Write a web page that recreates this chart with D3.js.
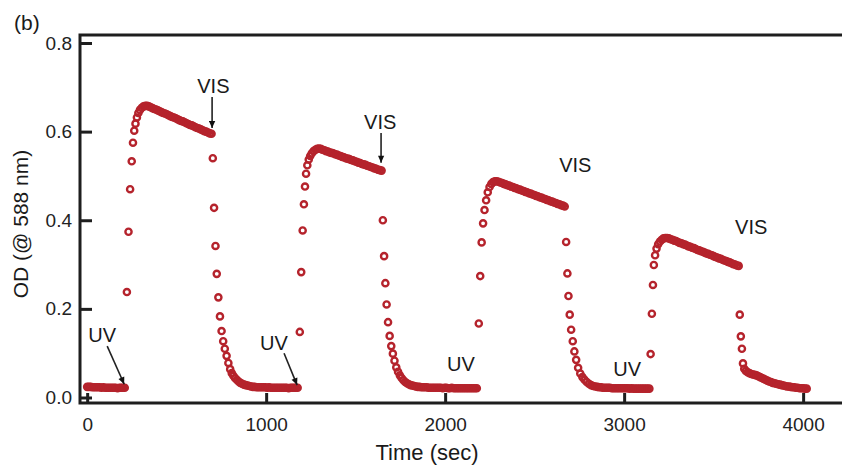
<!DOCTYPE html>
<html>
<head>
<meta charset="utf-8">
<script src="https://cdn.jsdelivr.net/npm/d3@7"></script>
<style>
  body { margin: 0; background: #fff; }
  svg { display: block; font-family: "Liberation Sans", Arial, Helvetica, sans-serif; }
</style>
</head>
<body>
<svg id="chart" width="842" height="466"></svg>
<script>
// Optical density at 588 nm over four UV / VIS switching cycles: [time (s), OD]
const uvDark1 = [[0,0.024],[10,0.024],[20,0.024],[30,0.023],[40,0.023],[50,0.023],[60,0.023],[70,0.023],[80,0.022],[90,0.023],[100,0.022],[110,0.022],[120,0.022],[130,0.022],[140,0.022],[150,0.022],[160,0.022],[170,0.021],[180,0.022],[190,0.022],[200,0.022],[210,0.022]];
const rise1 = [[222,0.238],[231,0.374],[240,0.470],[249,0.533],[256,0.575],[263,0.602],[270,0.618],[278,0.632],[286,0.642],[295,0.649],[305,0.654],[315,0.657],[325,0.658],[335,0.658]];
const plateau1 = [[345,0.657],[355,0.655],[365,0.653],[375,0.651],[385,0.650],[395,0.648],[405,0.646],[415,0.644],[425,0.642],[435,0.641],[445,0.639],[455,0.637],[465,0.635],[475,0.633],[485,0.632],[495,0.630],[505,0.628],[515,0.626],[525,0.624],[535,0.623],[545,0.621],[555,0.619],[565,0.617],[575,0.615],[585,0.614],[595,0.612],[605,0.610],[615,0.608],[625,0.607],[635,0.605],[645,0.603],[655,0.601],[665,0.600],[675,0.598],[685,0.596],[695,0.595]];
const fall1 = [[702,0.540],[709,0.428],[717,0.342],[724,0.279],[733,0.226],[742,0.183],[751,0.150],[760,0.127],[769,0.110],[779,0.094],[789,0.078],[799,0.064],[808,0.055],[817,0.049],[826,0.044],[836,0.040],[846,0.036],[856,0.033],[866,0.031],[876,0.029],[886,0.028],[896,0.027],[906,0.026],[916,0.025],[926,0.024]];
const dark2 = [[936,0.024],[946,0.023],[956,0.023],[966,0.023],[976,0.023],[986,0.023],[996,0.023],[1006,0.022],[1016,0.023],[1026,0.022],[1036,0.022],[1046,0.022],[1056,0.022],[1066,0.022],[1076,0.022],[1086,0.022],[1096,0.022],[1106,0.022],[1116,0.022],[1126,0.021],[1136,0.022],[1146,0.022],[1156,0.022],[1166,0.022],[1176,0.022]];
const rise2 = [[1188,0.148],[1196,0.283],[1204,0.377],[1211,0.436],[1217,0.476],[1223,0.505],[1230,0.524],[1238,0.537],[1246,0.545],[1255,0.551],[1265,0.556],[1275,0.559],[1285,0.561],[1295,0.562]];
const plateau2 = [[1305,0.561],[1315,0.559],[1325,0.558],[1335,0.556],[1345,0.555],[1355,0.553],[1365,0.552],[1375,0.551],[1385,0.549],[1395,0.548],[1405,0.546],[1415,0.545],[1425,0.543],[1435,0.542],[1445,0.540],[1455,0.539],[1465,0.538],[1475,0.536],[1485,0.535],[1495,0.533],[1505,0.532],[1515,0.530],[1525,0.529],[1535,0.527],[1545,0.526],[1555,0.525],[1565,0.523],[1575,0.522],[1585,0.520],[1595,0.519],[1605,0.517],[1615,0.516],[1625,0.514],[1635,0.513],[1645,0.512]];
const fall2 = [[1652,0.400],[1659,0.319],[1666,0.258],[1673,0.210],[1681,0.170],[1690,0.139],[1699,0.116],[1708,0.099],[1717,0.083],[1727,0.068],[1737,0.058],[1747,0.050],[1757,0.044],[1767,0.039],[1777,0.035],[1787,0.032],[1797,0.030],[1807,0.028],[1817,0.027],[1827,0.026],[1837,0.025],[1847,0.024]];
const dark3 = [[1857,0.024],[1867,0.023],[1877,0.023],[1887,0.023],[1897,0.023],[1907,0.022],[1917,0.022],[1927,0.022],[1937,0.022],[1947,0.022],[1957,0.022],[1967,0.022],[1977,0.022],[1987,0.021],[1997,0.022],[2007,0.022],[2017,0.021],[2027,0.021],[2037,0.022],[2047,0.021],[2057,0.021],[2067,0.021],[2077,0.021],[2087,0.021],[2097,0.021],[2107,0.021],[2117,0.021],[2127,0.021],[2137,0.021],[2147,0.021],[2157,0.021],[2167,0.021],[2177,0.021]];
const rise3 = [[2188,0.167],[2196,0.274],[2204,0.350],[2212,0.393],[2220,0.423],[2229,0.445],[2238,0.463],[2248,0.475],[2258,0.482],[2268,0.486],[2278,0.488],[2288,0.488]];
const plateau3 = [[2298,0.487],[2308,0.485],[2318,0.484],[2328,0.482],[2338,0.481],[2348,0.479],[2358,0.478],[2368,0.476],[2378,0.475],[2388,0.473],[2398,0.472],[2408,0.470],[2418,0.469],[2428,0.467],[2438,0.466],[2448,0.464],[2458,0.463],[2468,0.461],[2478,0.460],[2488,0.458],[2498,0.457],[2508,0.455],[2518,0.454],[2528,0.452],[2538,0.451],[2548,0.449],[2558,0.448],[2568,0.446],[2578,0.445],[2588,0.443],[2598,0.442],[2608,0.440],[2618,0.439],[2628,0.437],[2638,0.436],[2648,0.434],[2658,0.433],[2668,0.431]];
const fall3 = [[2676,0.351],[2683,0.280],[2689,0.229],[2696,0.187],[2704,0.153],[2713,0.127],[2722,0.104],[2732,0.085],[2743,0.067],[2755,0.054],[2767,0.046],[2779,0.040],[2791,0.035],[2803,0.031],[2815,0.028],[2827,0.026],[2839,0.025],[2851,0.024]];
const dark4 = [[2861,0.023],[2871,0.023],[2881,0.022],[2891,0.022],[2901,0.022],[2911,0.022],[2921,0.022],[2931,0.021],[2941,0.021],[2951,0.021],[2961,0.021],[2971,0.021],[2981,0.021],[2991,0.021],[3001,0.021],[3011,0.021],[3021,0.021],[3031,0.020],[3041,0.021],[3051,0.020],[3061,0.020],[3071,0.020],[3081,0.020],[3091,0.020],[3101,0.020],[3111,0.020],[3121,0.020],[3131,0.020],[3141,0.020]];
const rise4 = [[3148,0.098],[3155,0.189],[3161,0.254],[3166,0.299],[3173,0.321],[3181,0.336],[3190,0.346],[3200,0.352],[3210,0.356],[3220,0.359],[3230,0.360],[3240,0.360]];
const plateau4 = [[3250,0.359],[3260,0.357],[3270,0.356],[3280,0.354],[3290,0.353],[3300,0.351],[3310,0.349],[3320,0.348],[3330,0.346],[3340,0.345],[3350,0.343],[3360,0.341],[3370,0.340],[3380,0.338],[3390,0.337],[3400,0.335],[3410,0.333],[3420,0.332],[3430,0.330],[3440,0.329],[3450,0.327],[3460,0.325],[3470,0.324],[3480,0.322],[3490,0.321],[3500,0.319],[3510,0.317],[3520,0.316],[3530,0.314],[3540,0.313],[3550,0.311],[3560,0.309],[3570,0.308],[3580,0.306],[3590,0.305],[3600,0.303],[3610,0.301],[3620,0.300],[3630,0.298],[3640,0.297]];
const fall4 = [[3646,0.187],[3652,0.138],[3658,0.110],[3664,0.077],[3671,0.065],[3680,0.060],[3690,0.057],[3700,0.055],[3710,0.053],[3720,0.052],[3730,0.051],[3740,0.050],[3750,0.048],[3760,0.046],[3770,0.044],[3780,0.042],[3790,0.040],[3800,0.038],[3810,0.036],[3820,0.035],[3830,0.033],[3840,0.032],[3850,0.031],[3860,0.030],[3870,0.029],[3880,0.028],[3890,0.027],[3900,0.026],[3910,0.025],[3920,0.025],[3930,0.024],[3940,0.023],[3950,0.023],[3960,0.022],[3970,0.022],[3980,0.021],[3990,0.021],[4000,0.021],[4010,0.020],[4020,0.020]];

// Axis ticks
const xTicks = [0, 1000, 2000, 3000, 4000];
const yTicks = [0.0, 0.2, 0.4, 0.6, 0.8];

// Light-switch annotations, anchored in data units (time s, OD)
const labels = [
  { text: "UV",  t: 6,    od: 0.125 },
  { text: "UV",  t: 966,  od: 0.107 },
  { text: "UV",  t: 2011, od: 0.060 },
  { text: "UV",  t: 2939, od: 0.049 },
  { text: "VIS", t: 615,  od: 0.687 },
  { text: "VIS", t: 1547, od: 0.606 },
  { text: "VIS", t: 2637, od: 0.509 },
  { text: "VIS", t: 3620, od: 0.369 }
];
const arrows = [
  { t0: 112,  od0: 0.116, t1: 207,  od1: 0.030 },
  { t0: 1100, od0: 0.100, t1: 1173, od1: 0.028 },
  { t0: 698,  od0: 0.678, t1: 698,  od1: 0.608 },
  { t0: 1642, od0: 0.597, t1: 1642, od1: 0.530 }
];

const series = [uvDark1, rise1, plateau1, fall1, dark2, rise2, plateau2, fall2,
                dark3, rise3, plateau3, fall3, dark4, rise4, plateau4, fall4].flat();

const svg = d3.select("#chart");
const plotLeft = 80, plotRight = 842.5, plotTop = 35, plotBottom = 403;

const x = d3.scaleLinear().domain([-40, 4220]).range([plotLeft, plotRight]);
const y = d3.scaleLinear().domain([-0.0124, 0.818]).range([plotBottom, plotTop]);

const red = "#b5232c";
const ink = "#1e1e1e";

// data points as open circles
svg.append("g")
  .selectAll("circle")
  .data(series)
  .join("circle")
  .attr("cx", d => x(d[0]))
  .attr("cy", d => y(d[1]))
  .attr("r", 3.1)
  .attr("fill", "none")
  .attr("stroke", red)
  .attr("stroke-width", 2.4);

// axes with inward ticks
const xAxis = d3.axisBottom(x).tickValues(xTicks).tickSizeInner(-10).tickSizeOuter(0)
  .tickPadding(15).tickFormat(d3.format("d"));
const yAxis = d3.axisLeft(y).tickValues(yTicks).tickSizeInner(-12).tickSizeOuter(0)
  .tickPadding(8).tickFormat(d3.format(".1f"));

const gx = svg.append("g").attr("transform", `translate(0,${plotBottom})`).call(xAxis);
const gy = svg.append("g").attr("transform", `translate(${plotLeft},0)`).call(yAxis);
[gx, gy].forEach(g => {
  g.select(".domain").remove();
  g.selectAll(".tick line").attr("stroke", ink).attr("stroke-width", 3);
  g.selectAll(".tick text").attr("fill", "#222").style("font-size", "19px")
    .style("font-family", "'Liberation Sans', Arial, sans-serif");
});

// frame: left, top and bottom spines
svg.append("path")
  .attr("d", `M${plotRight},${plotTop}H${plotLeft}V${plotBottom}H${plotRight}`)
  .attr("fill", "none")
  .attr("stroke", ink)
  .attr("stroke-width", 3)
  .attr("stroke-linejoin", "miter");

// arrowhead
svg.append("defs").append("marker")
  .attr("id", "head")
  .attr("viewBox", "0 0 10 10")
  .attr("refX", 10).attr("refY", 5)
  .attr("markerUnits", "userSpaceOnUse")
  .attr("markerWidth", 9).attr("markerHeight", 7)
  .attr("orient", "auto")
  .append("path")
  .attr("d", "M0,0.5L10,5L0,9.5Z")
  .attr("fill", "#111");

svg.append("g")
  .selectAll("line")
  .data(arrows)
  .join("line")
  .attr("x1", d => x(d.t0)).attr("y1", d => y(d.od0))
  .attr("x2", d => x(d.t1)).attr("y2", d => y(d.od1))
  .attr("stroke", "#222")
  .attr("stroke-width", 1.6)
  .attr("marker-end", "url(#head)");

svg.append("g")
  .selectAll("text")
  .data(labels)
  .join("text")
  .attr("x", d => x(d.t))
  .attr("y", d => y(d.od))
  .attr("fill", "#1a1a1a")
  .style("font-size", "20px")
  .text(d => d.text);

// axis titles and panel letter
svg.append("text")
  .attr("x", 427).attr("y", 460)
  .attr("text-anchor", "middle")
  .attr("fill", "#1a1a1a")
  .style("font-size", "22px")
  .text("Time (sec)");

svg.append("text")
  .attr("transform", "translate(28,224) rotate(-90)")
  .attr("text-anchor", "middle")
  .attr("fill", "#1a1a1a")
  .style("font-size", "21px")
  .text("OD (@ 588 nm)");

svg.append("text")
  .attr("x", 14).attr("y", 30)
  .attr("fill", "#1a1a1a")
  .style("font-size", "21px")
  .text("(b)");
</script>
</body>
</html>
